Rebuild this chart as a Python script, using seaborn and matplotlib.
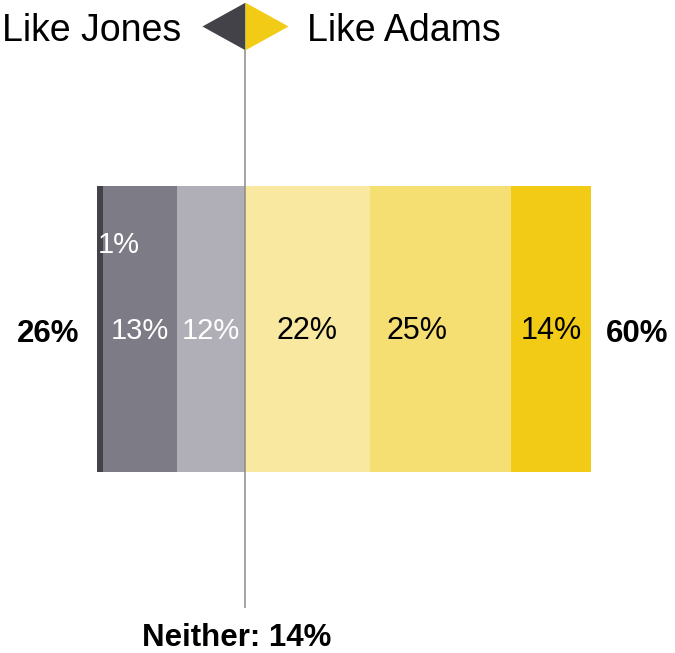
import matplotlib
matplotlib.use("Agg")
import matplotlib.pyplot as plt
import seaborn as sns

# --- Data ---
jones_labels = ["1%", "13%", "12%"]          # outer -> inner
jones_values = [1, 13, 12]
adams_labels = ["22%", "25%", "14%"]         # inner -> outer
adams_values = [22, 25, 14]
jones_total = "26%"
adams_total = "60%"
neither_label = "Neither: 14%"

jones_colors = ["#434249", "#7c7b86", "#b0afb8"]
adams_colors = ["#f9e8a0", "#f5de72", "#f2cb17"]
dark, yellow = "#434249", "#f2cb17"

sns.set_theme(style="white")
plt.rcParams["font.family"] = ["Liberation Sans", "DejaVu Sans"]
plt.rcParams["text.color"] = "black"

fig = plt.figure(figsize=(6.75, 6.53), dpi=100)
ax = fig.add_axes([0, 0, 1, 1])

# --- Stacked bars (overlapping cumulative bars, widest first) ---
cat = ["q"]
jones_cum = [-sum(jones_values[i:]) for i in range(len(jones_values))]   # -26, -25, -12
for cum, c in zip(jones_cum, jones_colors):
    sns.barplot(x=[cum], y=cat, orient="h", color=c, saturation=1,
                width=1, linewidth=0, ax=ax)

adams_cum = [sum(adams_values[:i + 1]) for i in range(len(adams_values))]  # 22, 47, 61
for cum, c in reversed(list(zip(adams_cum, adams_colors))):
    sns.barplot(x=[cum], y=cat, orient="h", color=c, saturation=1,
                width=1, linewidth=0, ax=ax)

ax.set_xlim(-43.2, 75.9)
ax.set_ylim(1.133, -1.150)
ax.set_axis_off()

# segment labels
ax.text(jones_cum[0], -0.266, jones_labels[0], ha="left", va="baseline",
        color="white", fontsize=21)
for i in (1, 2):
    xc = jones_cum[i] + jones_values[i] / 2
    ax.text(xc, 0.035, jones_labels[i], ha="center", va="baseline",
            color="white", fontsize=21)

adams_text_x = [11, 30.4, 54]
for xc, lab in zip(adams_text_x, adams_labels):
    ax.text(xc, 0.035, lab, ha="center", va="baseline", color="black", fontsize=22)

# totals
ax.text(-34.7, 0.045, jones_total, ha="center", va="baseline",
        fontsize=22.5, fontweight="bold", color="black")
ax.text(69.3, 0.045, adams_total, ha="center", va="baseline",
        fontsize=22.5, fontweight="bold", color="black")
ax.text(-1.5, 1.11, neither_label, ha="center", va="baseline",
        fontsize=22.5, fontweight="bold", color="black")

# centre line and header
ax.vlines(0, -0.976, 0.976, color="#8a8a8a", linewidth=1.1, zorder=5)

left_tri = [(-1, 0), (0, 0.553), (0, -0.553)]
right_tri = [(1, 0), (0, 0.553), (0, -0.553)]
ax.plot([0], [-1.059], marker=left_tri, markersize=62, color=dark,
        markeredgewidth=0, linestyle="none", zorder=6)
ax.plot([0], [-1.059], marker=right_tri, markersize=62, color=yellow,
        markeredgewidth=0, linestyle="none", zorder=6)

ax.text(-11.2, -1.008, "Like Jones", ha="right", va="baseline",
        fontsize=27, color="black")
ax.text(10.9, -1.008, "Like Adams", ha="left", va="baseline",
        fontsize=27, color="black")

fig.savefig("out.png", dpi=100)
